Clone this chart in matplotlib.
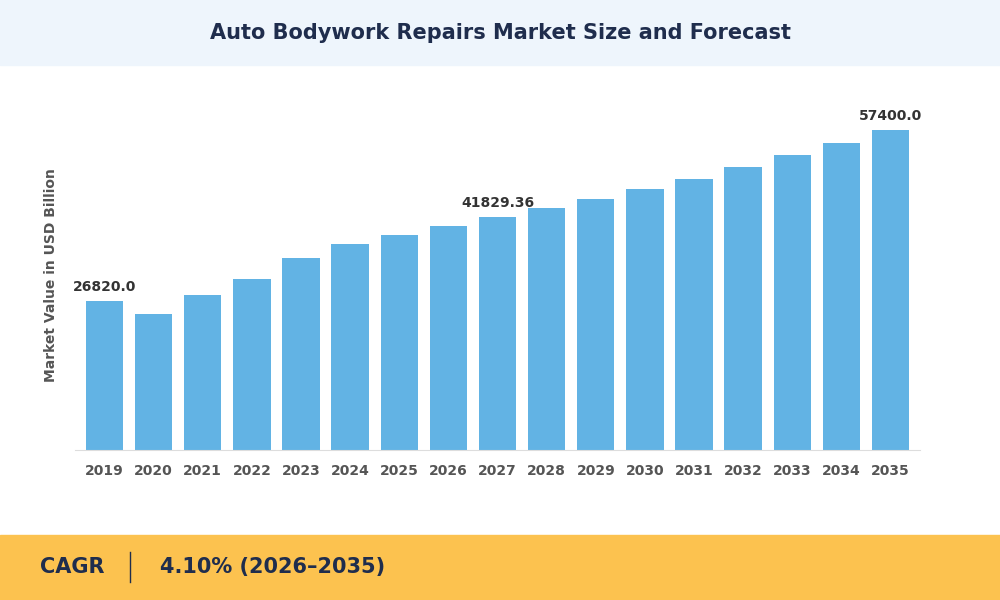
import matplotlib
matplotlib.use("Agg")
import matplotlib.pyplot as plt
from matplotlib.patches import Rectangle

years = [str(y) for y in range(2019, 2036)]
values = [26820.0, 24400, 27800, 30670, 34440, 36950, 38570, 40180, 41829.36,
          43410, 45020, 46820, 48610, 50760, 52920, 55070, 57400.0]
labeled = {0: "26820.0", 8: "41829.36", 16: "57400.0"}

fig = plt.figure(figsize=(10, 6), dpi=100)
fig.patch.set_facecolor("white")
fig.add_artist(Rectangle((0, 535/600*0+ (600-65)/600), 1, 65/600, transform=fig.transFigure, color="#eef5fc", zorder=0))
fig.add_artist(Rectangle((0, 0), 1, 65/600, transform=fig.transFigure, color="#fcc24f", zorder=0))
fig.text(0.5, 1-33/600, "Auto Bodywork Repairs Market Size and Forecast", ha="center", va="center",
         fontsize=15, fontweight="bold", color="#1f2d4d")
fig.text(0.04, 33/600, "CAGR", ha="left", va="center", fontsize=15, fontweight="bold", color="#1f2d4d")
fig.add_artist(plt.Line2D([0.13, 0.13], [18/600, 48/600], transform=fig.transFigure, color="#1f2d4d", lw=1))
fig.text(0.16, 33/600, "4.10% (2026–2035)", ha="left", va="center", fontsize=15, fontweight="bold", color="#1f2d4d")

ax = fig.add_axes([0.075, 0.25, 0.845, 350/600])
x = range(len(years))
ax.bar(x, values, width=0.76, color="#62b3e4")
for i, t in labeled.items():
    ax.text(i, values[i] + 1200, t, ha="center", va="bottom", fontsize=10, fontweight="bold", color="#333333")
ax.set_ylim(0, 62800)
ax.set_xlim(-0.6, len(years) - 0.4)
ax.set_xticks(list(x))
ax.set_xticklabels(years, fontsize=10, fontweight="bold", color="#555555")
ax.tick_params(length=0, pad=10)
ax.set_yticks([])
for s in ["top", "right", "left"]:
    ax.spines[s].set_visible(False)
ax.spines["bottom"].set_color("#dddddd")
ax.set_ylabel("Market Value in USD Billion", fontsize=10, fontweight="bold", color="#555555", labelpad=12)
fig.savefig("out.png", dpi=100)
